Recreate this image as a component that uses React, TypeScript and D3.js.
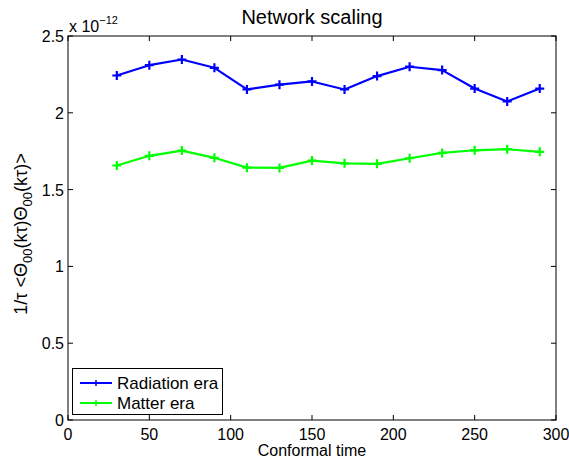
import React from 'react';
import * as d3 from 'd3';

const times = [30, 50, 70, 90, 110, 130, 150, 170, 190, 210, 230, 250, 270, 290];
const radiation = [2.243, 2.31, 2.347, 2.293, 2.152, 2.183, 2.204, 2.152, 2.239, 2.3, 2.278, 2.158, 2.074, 2.158];
const matter = [1.657, 1.72, 1.754, 1.707, 1.643, 1.641, 1.689, 1.671, 1.668, 1.704, 1.739, 1.756, 1.763, 1.746];
const xTicks = [0, 50, 100, 150, 200, 250, 300];
const yTicks = [0, 0.5, 1, 1.5, 2, 2.5];

const series = [
  { name: 'Radiation era', color: '#0000ff', values: radiation },
  { name: 'Matter era', color: '#00ff00', values: matter },
];

const W = 569, H = 462;
const left = 68, right = 556, top = 36, bottom = 420;
const font = 'Liberation Sans, Arial, sans-serif';

export default function App() {
  const x = d3.scaleLinear().domain([0, 300]).range([left, right]);
  const y = d3.scaleLinear().domain([0, 2.5]).range([bottom, top]);
  const line = d3.line<number>().x((d, i) => x(times[i])).y(d => y(d));
  const tick = 5;

  return (
    <svg width={W} height={H} style={{ position: 'absolute', left: 0, top: 0, background: '#fff' }} fontFamily={font}>
      <rect x={0} y={0} width={W} height={H} fill="#fff" />
      {/* series */}
      {series.map(s => (
        <g key={s.name}>
          <path d={line(s.values) || ''} fill="none" stroke={s.color} strokeWidth={2.2} strokeLinejoin="round" />
          {s.values.map((v, i) => (
            <path key={i} d={`M${x(times[i]) - 4.5},${y(v)}h9M${x(times[i])},${y(v) - 4.5}v9`} stroke={s.color} strokeWidth={2.2} />
          ))}
        </g>
      ))}
      {/* box */}
      <rect x={left} y={top} width={right - left} height={bottom - top} fill="none" stroke="#000" strokeWidth={1} />
      {xTicks.map(t => (
        <g key={'x' + t}>
          <line x1={x(t)} x2={x(t)} y1={bottom} y2={bottom - tick} stroke="#000" />
          <line x1={x(t)} x2={x(t)} y1={top} y2={top + tick} stroke="#000" />
          <text x={x(t)} y={440} fontSize={16} textAnchor="middle">{t}</text>
        </g>
      ))}
      {yTicks.map(t => (
        <g key={'y' + t}>
          <line x1={left} x2={left + tick} y1={y(t)} y2={y(t)} stroke="#000" />
          <line x1={right} x2={right - tick} y1={y(t)} y2={y(t)} stroke="#000" />
          <text x={left - 4} y={y(t) + 6} fontSize={16} textAnchor="end">{t}</text>
        </g>
      ))}
      <text x={left + 1} y={32} fontSize={16}>
        x 10<tspan dy={-8} fontSize={11}>−12</tspan>
      </text>
      <text x={(left + right) / 2} y={24} fontSize={20} textAnchor="middle">Network scaling</text>
      <text x={(left + right) / 2} y={456} fontSize={16} textAnchor="middle">Conformal time</text>
      <text transform={`translate(27,234) rotate(-90)`} fontSize={18} textAnchor="middle">
        1/τ &lt;Θ<tspan dy={5} fontSize={13}>00</tspan><tspan dy={-5}>(kτ)Θ</tspan><tspan dy={5} fontSize={13}>00</tspan><tspan dy={-5}>(kτ)&gt;</tspan>
      </text>
      {/* legend */}
      <g>
        <rect x={72.5} y={368.5} width={150} height={46} fill="#fff" stroke="#000" strokeWidth={1} />
        {series.map((s, i) => {
          const ly = 383 + i * 20;
          return (
            <g key={s.name}>
              <line x1={80} x2={112} y1={ly} y2={ly} stroke={s.color} strokeWidth={2} />
              <path d={`M92,${ly}h8M96,${ly - 3}v6`} stroke={s.color} strokeWidth={1.5} />
              <text x={117} y={ly + 6} fontSize={17}>{s.name}</text>
            </g>
          );
        })}
      </g>
    </svg>
  );
}
